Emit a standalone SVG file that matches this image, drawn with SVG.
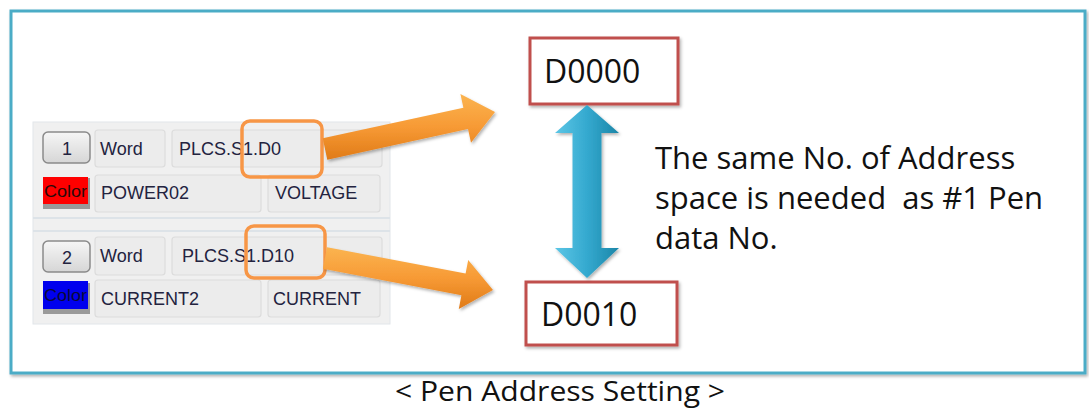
<svg xmlns="http://www.w3.org/2000/svg" width="1089" height="410" viewBox="0 0 1089 410">
<defs>
<linearGradient id="org" x1="0" y1="0" x2="0" y2="1">
<stop offset="0" stop-color="#fbb450"/>
<stop offset="0.5" stop-color="#f79a35"/>
<stop offset="1" stop-color="#e07b18"/>
</linearGradient>
<linearGradient id="blu" x1="0" y1="0" x2="1" y2="0">
<stop offset="0" stop-color="#5cc6e6"/>
<stop offset="0.5" stop-color="#34a9cf"/>
<stop offset="1" stop-color="#1c86a8"/>
</linearGradient>
<linearGradient id="btn" x1="0" y1="0" x2="0" y2="1">
<stop offset="0" stop-color="#f6f6f6"/>
<stop offset="1" stop-color="#d6d6d6"/>
</linearGradient>
<filter id="sh" x="-10%" y="-10%" width="130%" height="130%">
<feDropShadow dx="1.5" dy="2" stdDeviation="1.5" flood-color="#000" flood-opacity="0.3"/>
</filter>
</defs>
<style>
.frame{fill:#fff;stroke:#4bacc6;stroke-width:3}
.panel{fill:#f0f0f0;stroke:#e2e6ea;stroke-width:1}
.fld{fill:#ececec;stroke:#dcdcdc;stroke-width:1.2}
.bt{fill:url(#btn);stroke:#8a8a8a;stroke-width:1.5}
.ui{font-family:"Liberation Sans",Arial,sans-serif;font-size:18px;fill:#23233f}
.cl{font-family:"Liberation Sans Narrow","Liberation Sans",Arial,sans-serif;font-size:16px;fill:#2a0a0a}
.hl{fill:none;stroke:#f79646;stroke-width:3.5}
.dbox{fill:#fff;stroke:#c0504d;stroke-width:3}
.dt{font-family:"Open Sans","Noto Sans",sans-serif;font-size:32px;fill:#111}
.desc{font-family:"Open Sans","Noto Sans",sans-serif;font-size:31px;fill:#111}
.cap{font-family:"Open Sans","Noto Sans",sans-serif;font-size:28px;fill:#111}
</style>
<rect class="frame" x="11" y="11" width="1074" height="362" filter="url(#sh)"/>
<g id="panel">
<rect class="panel" x="33" y="122" width="357" height="202"/>
<line x1="33" y1="218" x2="390" y2="218" stroke="#dde3e8" stroke-width="2"/>
<line x1="33" y1="231" x2="390" y2="231" stroke="#dde3e8" stroke-width="2"/>
</g>
<g id="pen1">
<rect class="bt" x="43" y="132" width="47" height="31" rx="5"/>
<text class="ui" x="67" y="155" text-anchor="middle">1</text>
<rect class="fld" x="95" y="130" width="70" height="37" rx="3"/>
<text class="ui" x="100" y="155">Word</text>
<rect class="fld" x="172" y="130" width="210" height="37" rx="3"/>
<text class="ui" x="179" y="155">PLCS.S1.D0</text>
<rect x="43" y="178" width="47" height="31" fill="#9a9a9a"/>
<rect x="43" y="177" width="45" height="27" fill="#ff0000"/>
<text class="cl" x="44" y="197" textLength="43" lengthAdjust="spacingAndGlyphs">Color</text>
<rect class="fld" x="95" y="175" width="166" height="37" rx="3"/>
<text class="ui" x="101" y="199">POWER02</text>
<rect class="fld" x="268" y="175" width="112" height="37" rx="3"/>
<text class="ui" x="275" y="199">VOLTAGE</text>
<rect class="hl" x="242" y="121" width="80" height="56" rx="8"/>
</g>
<g id="pen2">
<rect class="bt" x="43" y="241" width="47" height="31" rx="5"/>
<text class="ui" x="67" y="264" text-anchor="middle">2</text>
<rect class="fld" x="95" y="237" width="70" height="38" rx="3"/>
<text class="ui" x="100" y="262">Word</text>
<rect class="fld" x="172" y="237" width="210" height="38" rx="3"/>
<text class="ui" x="182" y="262">PLCS.S1.D10</text>
<rect x="43" y="283" width="47" height="31" fill="#9a9a9a"/>
<rect x="43" y="281" width="45" height="28" fill="#0000ee"/>
<text class="cl" x="44" y="301" textLength="43" lengthAdjust="spacingAndGlyphs" style="fill:#0a0a3a">Color</text>
<rect class="fld" x="95" y="280" width="166" height="37" rx="3"/>
<text class="ui" x="101" y="305">CURRENT2</text>
<rect class="fld" x="268" y="280" width="112" height="37" rx="3"/>
<text class="ui" x="273" y="305">CURRENT</text>
<rect class="hl" x="246" y="226" width="79" height="52" rx="8"/>
</g>
<g id="d0000">
<rect class="dbox" x="530" y="38" width="148" height="66" filter="url(#sh)"/>
<text class="dt" x="544" y="83">D0000</text>
</g>
<g id="d0010">
<rect class="dbox" x="526" y="282" width="151" height="63" filter="url(#sh)"/>
<text class="dt" x="541" y="326">D0010</text>
</g>
<g id="note">
<text class="desc" x="655" y="169">The same No. of Address</text>
<text class="desc" x="655" y="209" xml:space="preserve">space is needed  as #1 Pen</text>
<text class="desc" x="655" y="249">data No.</text>
</g>
<g id="connectors">
<polygon fill="url(#org)" filter="url(#sh)" points="322.7,138.3 463.4,107.7 460.4,94 495,112 471,142.8 468,129.1 327.3,159.7"/>
<polygon fill="url(#org)" filter="url(#sh)" points="327.1,247.2 465.6,273.6 468.2,259.9 493,290 458.8,308.9 461.4,295.2 322.9,268.8"/>
<polygon fill="url(#blu)" filter="url(#sh)" points="587,105 619,133 601.5,133 601.5,248 619,248 587,278 555,248 572.5,248 572.5,133 555,133"/>
</g>
<text class="cap" x="395" y="401" textLength="330" lengthAdjust="spacingAndGlyphs">&lt; Pen Address Setting &gt;</text>
</svg>
